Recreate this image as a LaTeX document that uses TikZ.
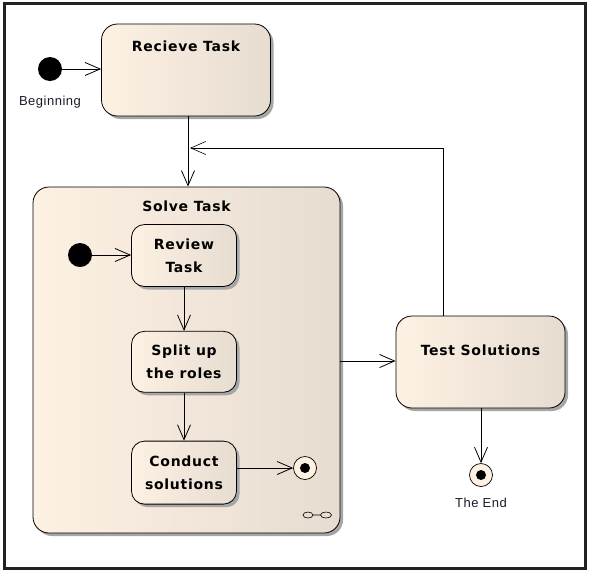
\documentclass[tikz,border=0pt]{standalone}
\usepackage{fontspec}
\usepackage{tikz}
\usetikzlibrary{arrows.meta,positioning,calc,shadows}
\newfontfamily\boxfont[LetterSpace=5]{DejaVu Sans}
\newfontfamily\lblfont[LetterSpace=4]{Liberation Sans}
\definecolor{BoxLeft}{HTML}{FDF1E3}
\definecolor{BoxRight}{HTML}{E6DCD0}
\definecolor{FrameGray}{HTML}{222222}
\definecolor{LblInk}{HTML}{1A1A2A}

\begin{document}
\begin{tikzpicture}[x=1pt,y=-1pt,node distance=44pt,>={Straight Barb[length=15pt,width=13pt]},line width=.8pt,
 act/.style={rounded corners=13pt,draw,line width=.8pt,left color=BoxLeft,right color=BoxRight,
  general shadow={fill=black!35,shadow xshift=3pt,shadow yshift=-3pt},
  minimum width=105pt,minimum height=62pt,align=center,inner sep=0pt,
  font=\boxfont\bfseries\fontsize{14}{23}\selectfont},
 bigact/.style={act,rounded corners=16pt,minimum width=169pt,inner ysep=0pt},
 startdot/.style={circle,fill=black,minimum size=24pt,inner sep=0pt},
 enddot/.style={circle,draw,line width=.7pt,fill=BoxLeft,minimum size=23pt,inner sep=0pt,
  path picture={\fill[black] (path picture bounding box.center) circle (5pt);}},
 lbl/.style={text=LblInk,font=\lblfont\fontsize{13}{15}\selectfont,inner sep=0pt}]
\useasboundingbox (0,0) rectangle (591,574);
\draw[FrameGray,line width=3.2pt] (4.6,3.8) rectangle (585.4,568.4);

\node[bigact,text height=27pt,text depth=65pt] (recv) at (186,70) {Recieve Task};
\node[startdot] (begin) at (50,69) {};
\node[lbl,below=14pt of begin] (beginlbl) {Beginning};

\node[act,rounded corners=16pt,minimum width=307pt,inner ysep=0pt,text height=24pt,text depth=322pt] (solve) at (186.5,360) {Solve Task};
\node[act] (review) at (184,255.5) {Review\\Task};
\node[act,minimum height=61pt,below=of review] (split) {Split up\\the roles};
\node[act,minimum height=63pt,below=48pt of split] (conduct) {Conduct\\solutions};
\node[startdot] (istart) at (80,255) {};
\node[enddot] (ifinal) at (305,468) {};
\draw[line width=.6pt] (308,515) ellipse (5pt and 3pt) (313,515) -- (320.5,515) (326,515) ellipse (5.5pt and 3pt);

\node[bigact,text height=39pt,text depth=53pt] (test) at (480.5,362) {Test Solutions};
\node[enddot] (fin) at (481,475) {};
\node[lbl,below=11pt of fin] (finlbl) {The End};

\coordinate (back) at (443,148);
\coordinate (merge) at (190,148);
\draw[->] (begin) -- (recv.west |- begin);
\draw[->] (recv.south -| 188,0) -- (solve.north -| 188,0);
\draw[->] (istart) -- (review.west |- istart);
\draw[->] (review) -- (split);
\draw[->] (split) -- (conduct);
\draw[->] (conduct.east |- ifinal) -- (ifinal);
\draw[->] (solve.east |- 0,361) -- (test.west |- 0,361);
\draw[->] (test.south -| fin) -- (fin);
\draw[->,line width=.6pt] (test.north -| back) -- (back) -- (merge);
\end{tikzpicture}
\end{document}
